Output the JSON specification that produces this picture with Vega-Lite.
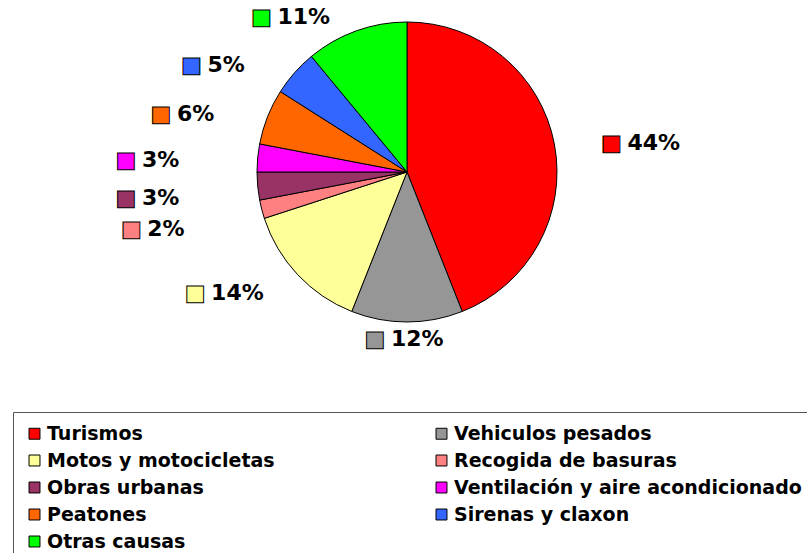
{
  "$schema": "https://vega.github.io/schema/vega-lite/v6.json",
  "width": 814,
  "height": 344,
  "autosize": {"type": "none"},
  "padding": {"left": 0, "top": 0, "right": 0, "bottom": 209},
  "background": "white",
  "view": {"stroke": null},
  "data": {
    "values": [
      {"causa": "Turismos", "valor": 0.44, "orden": 1},
      {"causa": "Vehiculos pesados", "valor": 0.12, "orden": 2},
      {"causa": "Motos y motocicletas", "valor": 0.14, "orden": 3},
      {"causa": "Recogida de basuras", "valor": 0.02, "orden": 4},
      {"causa": "Obras urbanas", "valor": 0.03, "orden": 5},
      {"causa": "Ventilación y aire acondicionado", "valor": 0.03, "orden": 6},
      {"causa": "Peatones", "valor": 0.06, "orden": 7},
      {"causa": "Sirenas y claxon", "valor": 0.05, "orden": 8},
      {"causa": "Otras causas", "valor": 0.11, "orden": 9}
    ]
  },
  "encoding": {
    "theta": {"field": "valor", "type": "quantitative", "stack": true},
    "order": {"field": "orden", "type": "quantitative"},
    "color": {
      "field": "causa",
      "type": "nominal",
      "scale": {
        "domain": ["Turismos", "Vehiculos pesados", "Motos y motocicletas", "Recogida de basuras", "Obras urbanas", "Ventilación y aire acondicionado", "Peatones", "Sirenas y claxon", "Otras causas"],
        "range": ["#FF0000", "#969696", "#FFFF99", "#FF8080", "#993366", "#FF00FF", "#FF6600", "#3366FF", "#00FF00"]
      },
      "legend": {
        "orient": "none",
        "legendX": 13,
        "legendY": 412,
        "columns": 2,
        "direction": "horizontal",
        "title": null,
        "symbolType": "square",
        "symbolSize": 120,
        "symbolStrokeColor": "black",
        "symbolStrokeWidth": 1,
        "symbolOpacity": 1,
        "labelFont": "DejaVu Sans",
        "labelFontSize": 19,
        "labelFontWeight": "bold",
        "labelColor": "black",
        "labelLimit": 700,
        "labelOffset": 3,
        "rowPadding": 7,
        "columnPadding": 157,
        "padding": 12,
        "strokeColor": "#555555",
        "fillColor": "white"
      }
    }
  },
  "layer": [
    {
      "mark": {"type": "arc", "outerRadius": 150, "stroke": "black", "strokeWidth": 1}
    },
    {
      "mark": {"type": "text", "radius": 200, "dx": 8, "dy": 8, "align": "center", "baseline": "middle", "font": "DejaVu Sans", "fontSize": 22, "stroke": "black", "strokeWidth": 1},
      "encoding": {
        "text": {"condition": {"test": "datum.causa === 'Turismos'", "value": "■"}, "value": ""}
      }
    },
    {
      "mark": {"type": "text", "radius": 200, "dx": 24, "dy": 8, "align": "left", "baseline": "middle", "font": "DejaVu Sans", "fontSize": 22, "fontWeight": "bold"},
      "encoding": {
        "color": {"value": "black"},
        "detail": {"field": "causa"},
        "text": {"condition": {"test": "datum.causa === 'Turismos'", "field": "valor", "type": "quantitative", "format": ".0%"}, "value": ""}
      }
    },
    {
      "mark": {"type": "text", "radius": 167, "dx": -32, "dy": 0, "align": "center", "baseline": "middle", "font": "DejaVu Sans", "fontSize": 22, "stroke": "black", "strokeWidth": 1},
      "encoding": {
        "text": {"condition": {"test": "datum.causa === 'Vehiculos pesados'", "value": "■"}, "value": ""}
      }
    },
    {
      "mark": {"type": "text", "radius": 167, "dx": -16, "dy": 0, "align": "left", "baseline": "middle", "font": "DejaVu Sans", "fontSize": 22, "fontWeight": "bold"},
      "encoding": {
        "color": {"value": "black"},
        "detail": {"field": "causa"},
        "text": {"condition": {"test": "datum.causa === 'Vehiculos pesados'", "field": "valor", "type": "quantitative", "format": ".0%"}, "value": ""}
      }
    },
    {
      "mark": {"type": "text", "radius": 170, "dx": -88, "dy": 5, "align": "center", "baseline": "middle", "font": "DejaVu Sans", "fontSize": 22, "stroke": "black", "strokeWidth": 1},
      "encoding": {
        "text": {"condition": {"test": "datum.orden === 3 || datum.orden >= 7", "value": "■"}, "value": ""}
      }
    },
    {
      "mark": {"type": "text", "radius": 170, "dx": -72, "dy": 5, "align": "left", "baseline": "middle", "font": "DejaVu Sans", "fontSize": 22, "fontWeight": "bold"},
      "encoding": {
        "color": {"value": "black"},
        "detail": {"field": "causa"},
        "text": {"condition": {"test": "datum.orden === 3 || datum.orden >= 7", "field": "valor", "type": "quantitative", "format": ".0%"}, "value": ""}
      }
    },
    {
      "mark": {"type": "text", "radius": 200, "dx": -82, "dy": 7, "align": "center", "baseline": "middle", "font": "DejaVu Sans", "fontSize": 22, "stroke": "black", "strokeWidth": 1},
      "encoding": {
        "text": {"condition": {"test": "datum.orden >= 4 && datum.orden <= 6", "value": "■"}, "value": ""}
      }
    },
    {
      "mark": {"type": "text", "radius": 200, "dx": -66, "dy": 7, "align": "left", "baseline": "middle", "font": "DejaVu Sans", "fontSize": 22, "fontWeight": "bold"},
      "encoding": {
        "color": {"value": "black"},
        "detail": {"field": "causa"},
        "text": {"condition": {"test": "datum.orden >= 4 && datum.orden <= 6", "field": "valor", "type": "quantitative", "format": ".0%"}, "value": ""}
      }
    }
  ]
}
